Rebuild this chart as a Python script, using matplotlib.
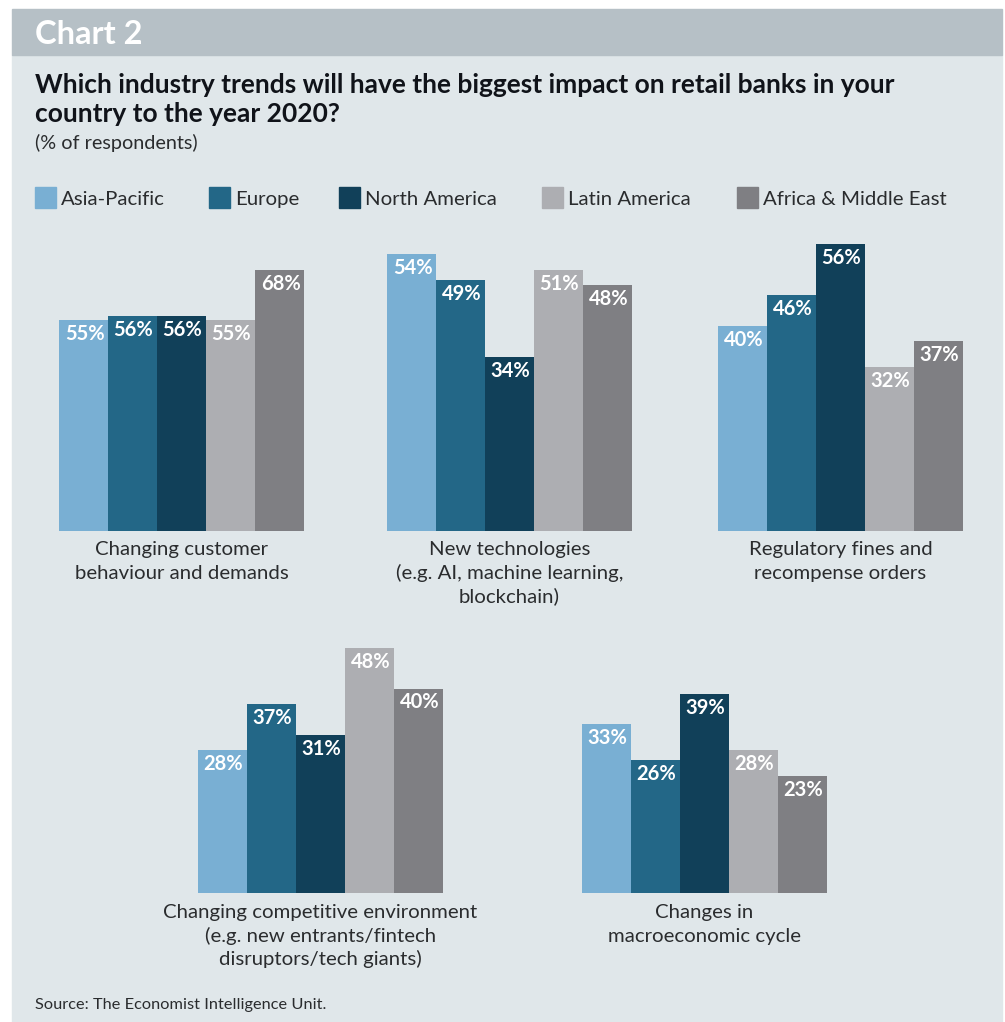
import matplotlib
matplotlib.use("Agg")
import matplotlib.pyplot as plt
from matplotlib.patches import Rectangle

W, H = 1005, 1022
plt.rcParams['font.family'] = ['Lato', 'DejaVu Sans']

regions = ["Asia-Pacific", "Europe", "North America", "Latin America", "Africa & Middle East"]
region_colors = ["#79afd3", "#236787", "#114059", "#adaeb2", "#7f7f83"]

trends = [
    ["Changing customer", "behaviour and demands"],
    ["New technologies", "(e.g. AI, machine learning,", "blockchain)"],
    ["Regulatory fines and", "recompense orders"],
    ["Changing competitive environment", "(e.g. new entrants/fintech", "disruptors/tech giants)"],
    ["Changes in", "macroeconomic cycle"],
]
customer = [55, 56, 56, 55, 68]
technology = [54, 49, 34, 51, 48]
regulatory = [40, 46, 56, 32, 37]
competition = [28, 37, 31, 48, 40]
macro = [33, 26, 39, 28, 23]
values = [customer, technology, regulatory, competition, macro]

BG = "#e0e7ea"
HEADER = "#b6c0c6"
DARK = "#101319"
GREY_TXT = "#2a2c2e"

fig = plt.figure(figsize=(W / 100, H / 100), dpi=100)
fig.patch.set_facecolor("white")


def fx(x):
    return x / W


def fy(y):
    return 1 - y / H


# panel background and header strip
fig.patches.append(Rectangle((fx(12), fy(1022)), fx(990), (1022 - 55) / H,
                             transform=fig.transFigure, color=BG, zorder=-2))
fig.patches.append(Rectangle((fx(12), fy(55)), fx(990), 46 / H,
                             transform=fig.transFigure, color=HEADER, zorder=-2))

fig.text(fx(35), fy(44), "Chart 2", color="white", fontsize=23.5, fontweight="bold", va="baseline")
fig.text(fx(35), fy(93), "Which industry trends will have the biggest impact on retail banks in your",
         color=DARK, fontsize=19, fontweight="bold", va="baseline")
fig.text(fx(35), fy(122), "country to the year 2020?",
         color=DARK, fontsize=19, fontweight="bold", va="baseline")
fig.text(fx(35), fy(149), "(% of respondents)", color=GREY_TXT, fontsize=14.3, va="baseline")

# legend
legend_x = [35, 209, 339, 542, 737]
for lx, name, c in zip(legend_x, regions, region_colors):
    fig.patches.append(Rectangle((fx(lx), fy(208)), 21 / W, 21 / H,
                                 transform=fig.transFigure, color=c, zorder=-1))
    fig.text(fx(lx + 26), fy(205), name, color=GREY_TXT, fontsize=14.7, va="baseline")

# panel boxes: left, top, right, baseline (px) and px per percentage point
panels = [
    (59, 230, 304, 530.7, 3.834),
    (387, 230, 632, 530.7, 5.12),
    (718, 230, 963, 530.7, 5.12),
    (198, 640, 443, 893.3, 5.12),
    (582, 640, 827, 893.3, 5.12),
]

for (l, t, r, b, scale), vals, label in zip(panels, values, trends):
    ax = fig.add_axes([fx(l), fy(b), (r - l) / W, (b - t) / H])
    ax.set_zorder(2)
    ax.set_facecolor("none")
    ax.bar(range(5), vals, width=1.0, color=region_colors)
    ax.set_xlim(-0.5, 4.5)
    ax.set_ylim(0, (b - t) / scale)
    ax.axis("off")
    for i, v in enumerate(vals):
        ax.annotate(f"{v}%", xy=(i, v), xytext=(1, -20), textcoords="offset pixels",
                    ha="center", va="baseline", color="white", fontsize=14.5, fontweight="bold")
    cx = (l + r) / 2
    for k, line in enumerate(label):
        fig.text(fx(cx), fy(b + 24.5 + 23.7 * k), line, ha="center", va="baseline",
                 color=GREY_TXT, fontsize=14.7)

fig.text(fx(35), fy(1009), "Source: The Economist Intelligence Unit.", color=GREY_TXT,
         fontsize=11.8, va="baseline")

fig.savefig("out.png", dpi=100, facecolor="white")
